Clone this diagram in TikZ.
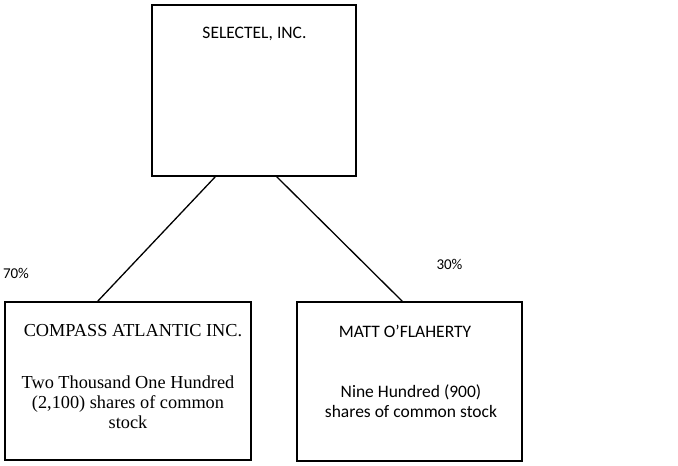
\documentclass[tikz,border=0pt]{standalone}
\usepackage{fontspec}
\setmainfont{Liberation Serif}
\newfontfamily\calib{Carlito}

\begin{document}
\begin{tikzpicture}[x=1pt,y=-1pt,line width=1.3pt,
                    box/.style={draw,inner sep=0pt},
                    sanstxt/.style={font=\calib\fontsize{17.5}{20}\selectfont,align=center,inner sep=0pt,anchor=base},
                    seriftxt/.style={font=\fontsize{18.3}{20}\selectfont,align=center,inner sep=0pt,anchor=base}]
                    \useasboundingbox (0,0) rectangle (678,466);
                    \node[box,minimum width=204pt,minimum height=171pt] (sel) at (254,90.5) {};
                    \node[box,minimum width=246pt,minimum height=158pt] (compass) at (128,381) {};
                    \node[box,minimum width=225pt,minimum height=159pt] (matt) at (409.5,381.5) {};
                    \node[sanstxt] (selname) at (254.5,38.3) {SELECTEL, INC.};
                    \node[seriftxt] (compname) at (133,336.7) {COMPASS ATLANTIC INC.};
                    \node[seriftxt] (compshares) at (128,428) {Two Thousand One Hundred\\(2,100) shares of common\\stock};
                    \node[sanstxt] (mattname) at (405,337) {MATT O’FLAHERTY};
                    \node[sanstxt] (mattshares) at (411,417) {Nine Hundred (900)\\shares of common stock};
                    \node[font=\calib\fontsize{15}{17}\selectfont,inner sep=0pt,anchor=base] (pctl) at (16,278) {70\%};
                    \node[font=\calib\fontsize{15}{17}\selectfont,inner sep=0pt,anchor=base] (pctr) at (449.5,269) {30\%};
                    \coordinate (selL) at (216,176);
                    \coordinate (selR) at (276,176);
                    \coordinate (compT) at (97,302);
                    \coordinate (mattT) at (403,302);
                    \draw (selL) -- (compT);
                    \draw (selR) -- (mattT);
                \end{tikzpicture}
\end{document}
